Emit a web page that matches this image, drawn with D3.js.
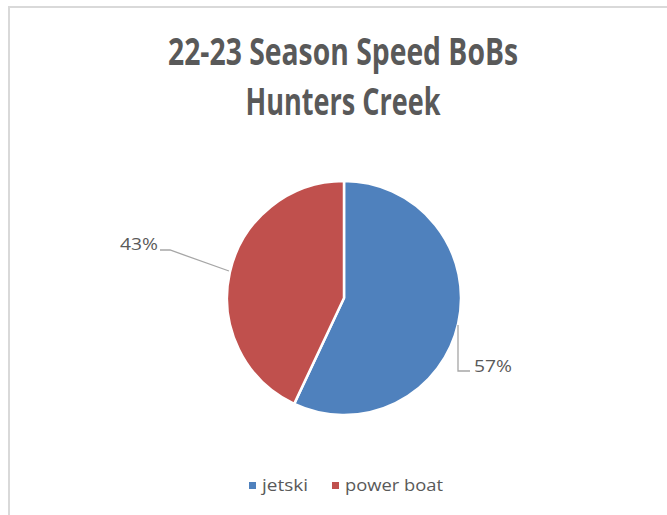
<!DOCTYPE html>
<html>
<head>
<meta charset="utf-8">
<script src="https://cdn.jsdelivr.net/npm/d3@7"></script>
<style>
  html, body { margin: 0; padding: 0; background: #fff; }
  svg { display: block; font-family: "Open Sans", "Liberation Sans", sans-serif; }
</style>
</head>
<body>
<svg id="chart" width="667" height="515"></svg>
<script>
// Share of speed BoBs by vehicle type
const categories = ["jetski", "power boat"];
const shares = [57, 43];
const colors = ["#4F81BD", "#C0504D"];
const titleLines = ["22-23 Season Speed BoBs", "Hunters Creek"];

const svg = d3.select("#chart");
const W = 667, H = 515;
const textColor = "#595959";

// chart frame
svg.append("rect")
  .attr("x", 9).attr("y", 7)
  .attr("width", W + 20).attr("height", H + 20)
  .attr("fill", "#fff")
  .attr("stroke", "#d9d9d9").attr("stroke-width", 2);

// fit a text element to a given width
function fitWidth(sel, width) {
  sel.attr("textLength", width).attr("lengthAdjust", "spacingAndGlyphs");
  return sel;
}

// title
const titleSpec = [
  { y: 65, width: 350 },
  { y: 115, width: 195 }
];
titleLines.forEach((t, i) => {
  svg.append("text")
    .attr("x", 343).attr("y", titleSpec[i].y)
    .attr("text-anchor", "middle")
    .attr("font-size", 37)
    .attr("font-weight", 700)
    .attr("fill", textColor)
    .text(t)
    .call(fitWidth, titleSpec[i].width);
});

// pie
const cx = 344, cy = 298, r = 117;
const pie = d3.pie().sort(null).value(d => d.value);
const arcs = pie(categories.map((c, i) => ({ name: c, value: shares[i], color: colors[i] })));
const arc = d3.arc().innerRadius(0).outerRadius(r);

const g = svg.append("g").attr("transform", `translate(${cx},${cy})`);
g.selectAll("path")
  .data(arcs)
  .join("path")
  .attr("d", arc)
  .attr("fill", d => d.data.color)
  .attr("stroke", "#fff")
  .attr("stroke-width", 2.5)
  .attr("stroke-linejoin", "round");

// data labels with leader lines
const pct = d3.format(".0%");
const labelStyle = sel => sel
  .attr("font-size", 16.5)
  .attr("fill", textColor);

// jetski label, below right of its slice
svg.append("path")
  .attr("d", "M458,325 L458,371 L470,371")
  .attr("fill", "none").attr("stroke", "#a6a6a6").attr("stroke-width", 1.3);
svg.append("text").attr("x", 474).attr("y", 372)
  .call(labelStyle)
  .text(pct(arcs[0].data.value / 100))
  .call(fitWidth, 38);

// power boat label, upper left of its slice
svg.append("path")
  .attr("d", "M160,250 L170,250 L229,271")
  .attr("fill", "none").attr("stroke", "#a6a6a6").attr("stroke-width", 1.3);
svg.append("text").attr("x", 120).attr("y", 250)
  .call(labelStyle)
  .text(pct(arcs[1].data.value / 100))
  .call(fitWidth, 38);

// legend
const legendItems = [
  { x: 249, name: categories[0], color: colors[0], width: 46 },
  { x: 332, name: categories[1], color: colors[1], width: 98 }
];
const lg = svg.append("g");
legendItems.forEach(it => {
  lg.append("rect").attr("x", it.x).attr("y", 482).attr("width", 7).attr("height", 7).attr("fill", it.color);
  lg.append("text").attr("x", it.x + 13).attr("y", 491)
    .attr("font-size", 16.5).attr("fill", textColor)
    .text(it.name)
    .call(fitWidth, it.width);
});
</script>
</body>
</html>
